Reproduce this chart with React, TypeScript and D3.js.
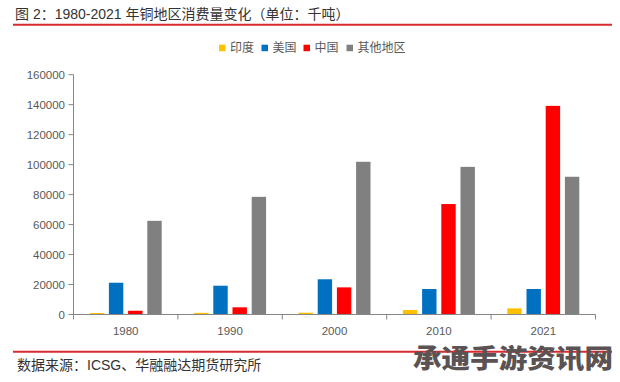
import React from 'react';
import * as d3 from 'd3';

const years = ['1980', '1990', '2000', '2010', '2021'];
const seriesNames = ['印度', '美国', '中国', '其他地区'];
const india = [1000, 1100, 1200, 3000, 4100];
const usa = [21200, 19200, 23500, 17000, 17000];
const china = [2500, 4800, 18100, 73700, 139200];
const other = [62500, 78500, 101900, 98500, 91900];
const yTicks = [0, 20000, 40000, 60000, 80000, 100000, 120000, 140000, 160000];
const colors = ['#FFC000', '#0070C0', '#FF0000', '#808080'];

const titleText = '图 2：1980-2021 年铜地区消费量变化（单位：千吨）';
const sourceText = '数据来源：ICSG、华融融达期货研究所';
const watermarkText = '承通手游资讯网';

const W = 620;
const H = 382;
const left = 73.5;
const right = 595.5;
const top = 74.7;
const bottom = 314.5;
const FONT = '"Liberation Sans", Arial, "Noto Sans CJK SC", sans-serif';

export default function App() {
  const series = [india, usa, china, other];
  const x = d3.scaleBand<string>().domain(years).range([left, right]).padding(0);
  const bw = x.bandwidth();
  const inner = d3
    .scaleBand<number>()
    .domain(d3.range(series.length))
    .range([bw / 2 - 36, bw / 2 + 36])
    .paddingInner(0.25)
    .paddingOuter(0);
  const y = d3.scaleLinear().domain([0, 160000]).range([bottom, top]);
  const axisColor = '#868686';
  const labelColor = '#595959';
  const boundaries = [...years.map((yr) => x(yr) as number), right];

  const legendX = [219, 261.5, 303.5, 346.5];

  return (
    <svg
      width={W}
      height={H}
      style={{ position: 'absolute', left: 0, top: 0, background: '#fff' }}
      fontFamily={FONT}
    >
      <rect x={0} y={0} width={W} height={H} fill="#fff" />
      {/* title */}
      <text x={15} y={18.5} fontSize={14} fill="#333" fontFamily={FONT}>
        {titleText}
      </text>
      <line x1={13} x2={612} y1={24.8} y2={24.8} stroke="#d92b2f" strokeWidth={2} />

      {/* legend */}
      {seriesNames.map((name, i) => (
        <g key={name}>
          <rect x={legendX[i]} y={44.7} width={6.5} height={6.5} fill={colors[i]} />
          <text x={legendX[i] + 11} y={48} dy="0.36em" fontSize={12} fill={labelColor}>
            {name}
          </text>
        </g>
      ))}

      {/* bars */}
      {years.map((yr, gi) => (
        <g key={yr} transform={`translate(${x(yr)},0)`}>
          {series.map((s, si) => (
            <rect
              key={si}
              x={inner(si)}
              y={y(s[gi])}
              width={inner.bandwidth()}
              height={bottom - y(s[gi])}
              fill={colors[si]}
            />
          ))}
        </g>
      ))}

      {/* y axis */}
      <line x1={left} x2={left} y1={top} y2={bottom} stroke={axisColor} strokeWidth={1} />
      {yTicks.map((t) => (
        <g key={t}>
          <line x1={left - 5} x2={left} y1={y(t)} y2={y(t)} stroke={axisColor} strokeWidth={1} />
          <text
            x={65}
            y={y(t)}
            dy="0.35em"
            textAnchor="end"
            fontSize={11.5}
            fill={labelColor}
          >
            {t}
          </text>
        </g>
      ))}

      {/* x axis */}
      <line x1={left} x2={right} y1={bottom} y2={bottom} stroke={axisColor} strokeWidth={1} />
      {boundaries.map((bx, i) => (
        <line key={i} x1={bx} x2={bx} y1={bottom} y2={bottom + 5} stroke={axisColor} strokeWidth={1} />
      ))}
      {years.map((yr) => (
        <text
          key={yr}
          x={(x(yr) as number) + bw / 2}
          y={330.5}
          dy="0.35em"
          textAnchor="middle"
          fontSize={11.5}
          fill={labelColor}
        >
          {yr}
        </text>
      ))}

      {/* footer */}
      <line x1={13} x2={612} y1={351.7} y2={351.7} stroke="#d92b2f" strokeWidth={2} />
      <text x={17} y={365} dy="0.35em" fontSize={14} fill="#333">
        {sourceText}
      </text>
      <text
        x={413}
        y={368}
        fontSize={26}
        fontWeight={900}
        fill="#5a5253"
        fontFamily='"Noto Sans CJK SC", sans-serif'
        textLength={200}
        lengthAdjust="spacingAndGlyphs"
      >
        {watermarkText}
      </text>
    </svg>
  );
}
